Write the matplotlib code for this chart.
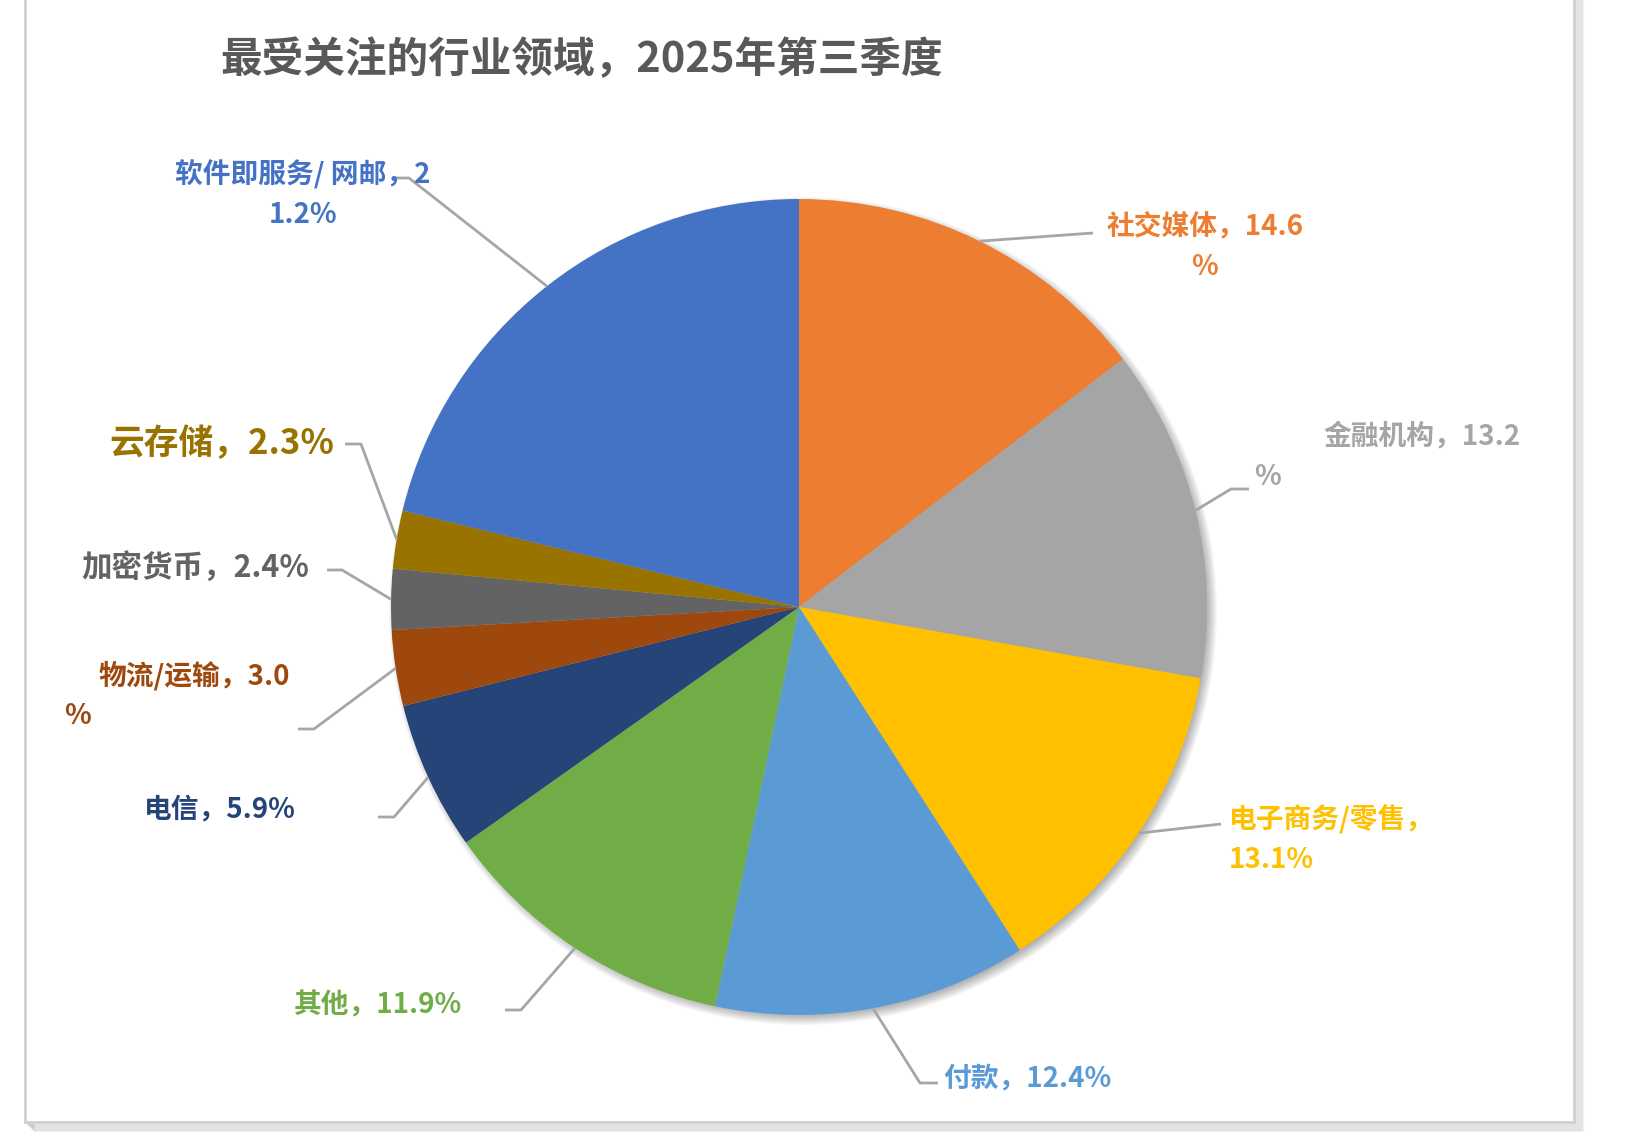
import matplotlib.pyplot as plt
from matplotlib.patches import Circle, Rectangle
import numpy as np

plt.rcParams['font.family'] = ['Noto Sans CJK SC', 'DejaVu Sans']

# data, clockwise from 12 o'clock
categories = ["社交媒体", "金融机构", "电子商务/零售", "付款", "其他",
              "电信", "物流/运输", "加密货币", "云存储", "软件即服务/ 网邮"]
shares = [14.6, 13.2, 13.1, 12.4, 11.9, 5.9, 3.0, 2.4, 2.3, 21.2]
colors = ["#ED7D31", "#A5A5A5", "#FFC000", "#5B9BD5", "#70AD47",
          "#264478", "#9E480E", "#636363", "#997300", "#4472C4"]
title = "最受关注的行业领域，2025年第三季度"

W, H = 1625, 1143
cx, cy, R = 799, 607, 408   # pie centre / radius in pixels (y from top)

# label layout: char index where each label wraps, and where each line sits (y from top)
breaks = [9, 9, 8, None, None, None, 9, None, None, 11]
line_pos = [
    [(1205, 227, "center"), (1205, 267, "center")],
    [(1323, 436, "left"), (1254, 477, "left")],
    [(1229, 820, "left"), (1229, 860, "left")],
    [(943, 1078, "left")],
    [(462, 1005, "right")],
    [(296, 809, "right")],
    [(290, 676, "right"), (64, 716, "left")],
    [(309, 568, "right")],
    [(334, 444, "right")],
    [(303, 175, "center"), (303, 215, "center")],
]
font_sizes = [20, 20, 20, 20, 20, 20, 20, 22, 25, 20]
elbows = [
    [(1093, 233)],
    [(1231, 489), (1249, 489)],
    [(1221, 824)],
    [(920, 1083), (938, 1083)],
    [(521, 1010), (505, 1010)],
    [(394, 817), (378, 817)],
    [(314, 729), (298, 729)],
    [(342, 570), (327, 570)],
    [(361, 444), (345, 444)],
    [(409, 178), (394, 178)],
]

fig = plt.figure(figsize=(W / 100, H / 100), dpi=100)
ax = fig.add_axes([0, 0, 1, 1])


def fy(y):
    return H - y


# chart frame with soft shadow
for i in range(8):
    ax.add_patch(Rectangle((25 + 2 + i, fy(1122) - 2 - i), 1549, 1160,
                           facecolor="none", edgecolor="black", lw=1.5,
                           alpha=0.05, zorder=0))
ax.add_patch(Rectangle((25, fy(1122)), 1549, 1160, facecolor="white",
                       edgecolor="#D0D0D0", lw=2, zorder=1))

# pie shadow
for i in range(10):
    ax.add_patch(Circle((cx + 4, fy(cy) - 4), R + 6 - i * 1.2,
                        color="black", alpha=0.035, lw=0, zorder=2))

wedges, _ = ax.pie(shares, colors=colors, startangle=90, counterclock=False,
                   center=(cx, fy(cy)), radius=R, frame=True,
                   wedgeprops=dict(linewidth=0))
for w in wedges:
    w.set_zorder(3)
ax.set_xlim(0, W)
ax.set_ylim(0, H)
ax.set_aspect("equal")
ax.axis("off")

for i, w in enumerate(wedges):
    text = f"{categories[i]}，{shares[i]:.1f}%"
    b = breaks[i]
    lines = [text] if b is None else [text[:b], text[b:]]
    for line, (x, y, ha) in zip(lines, line_pos[i]):
        ax.text(x, fy(y), line, ha=ha, va="center", color=colors[i],
                fontsize=font_sizes[i], fontweight="bold", zorder=5)
    # leader line from the middle of the wedge's rim
    mid = np.deg2rad((w.theta1 + w.theta2) / 2)
    pts = [(cx + R * np.cos(mid), fy(cy) + R * np.sin(mid))]
    pts += [(x, fy(y)) for x, y in elbows[i]]
    xs, ys = zip(*pts)
    ax.plot(xs, ys, color="#A6A6A6", lw=2, zorder=4, solid_capstyle="butt")

ax.text(220, fy(60), title, ha="left", va="center", color="#595959",
        fontsize=30, fontweight="bold", zorder=5)

fig.savefig("out.png", dpi=100)
